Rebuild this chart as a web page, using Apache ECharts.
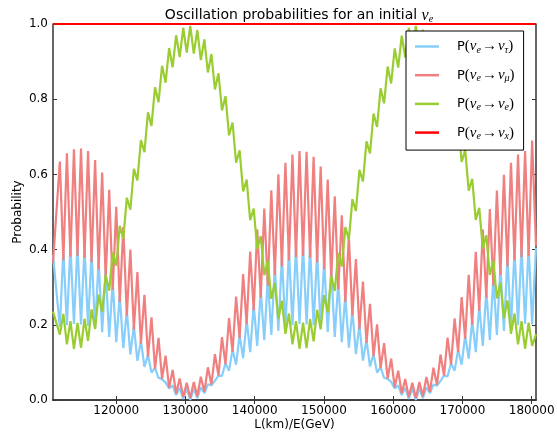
<!DOCTYPE html>
<html lang="en">
<head>
    <meta charset="UTF-8">
    <title>Oscillation probabilities</title>
    <style>
        html,body{
            margin: 0;
            padding: 0;
            background: #fff;
        }
        #chartmain{
            width: 557px;
            height: 439px;
        }
    </style>
</head>
<body>
<div id="chartmain"></div>
<script src="https://cdn.jsdelivr.net/npm/echarts@6/dist/echarts.min.js"></script>
<script type="text/javascript">
    // L/E positions (km/GeV) of the zig-zag turning points
    var lOverE = [110866,111856,112365,112874,113383,113892,114401,114910,115419,
        115928,116437,116946,117455,117964,118473,118982,119491,120000,120509,
        121018,121527,122036,122545,123054,123563,124072,124581,125090,125599,
        126108,126617,127126,127635,128144,128653,129162,129671,130180,130689,
        131198,131707,132216,132725,133234,133743,134252,134761,135270,135779,
        136288,136797,137306,137815,138324,138833,139342,139851,140360,140869,
        141378,141887,142396,142905,143414,143923,144432,144941,145450,145959,
        146468,146977,147486,147995,148504,149013,149522,150031,150540,151049,
        151558,152067,152576,153085,153594,154103,154612,155121,155630,156139,
        156648,157157,157666,158175,158684,159193,159702,160211,160720,161229,
        161738,162247,162756,163265,163774,164283,164792,165301,165810,166319,
        166828,167337,167846,168355,168864,169373,169882,170391,170900,171409,
        171918,172427,172936,173445,173954,174463,174972,175481,175990,176499,
        177008,177517,178026,178535,179044,179553,180062,180620];

    // P(nu_e -> nu_tau)
    var pTau = [.385,.194,.399,.199,.410,.202,.412,.201,.407,
        .197,.394,.190,.373,.180,.346,.168,.314,.154,.278,
        .138,.239,.121,.198,.104,.158,.088,.120,.073,.085,
        .059,.055,.047,.031,.039,.013,.033,.003,.030,.000,
        .031,.005,.034,.018,.042,.039,.051,.065,.064,.098,
        .078,.134,.094,.173,.111,.213,.127,.253,.144,.292,
        .159,.326,.173,.357,.184,.381,.193,.399,.199,.409,
        .202,.412,.201,.407,.198,.394,.191,.373,.181,.347,
        .168,.315,.154,.279,.139,.240,.122,.200,.105,.160,
        .089,.122,.073,.087,.059,.056,.048,.031,.039,.013,
        .033,.003,.030,.000,.031,.005,.034,.018,.041,.038,
        .051,.065,.063,.097,.078,.133,.094,.172,.110,.212,
        .127,.252,.144,.291,.159,.326,.173,.356,.184,.381,
        .193,.399,.199,.409,.202,.412,.201,.405];

    // P(nu_e -> nu_mu)
    var pMu = [.365,.634,.371,.656,.381,.667,.383,.669,.378,
        .662,.366,.638,.347,.605,.322,.559,.293,.514,.260,
        .460,.224,.400,.187,.340,.150,.280,.115,.220,.083,
        .165,.056,.118,.033,.080,.017,.057,.008,.046,.005,
        .048,.010,.062,.022,.087,.041,.122,.065,.167,.095,
        .218,.128,.275,.164,.335,.201,.395,.238,.454,.272,
        .509,.304,.558,.332,.600,.355,.631,.371,.653,.380,
        .662,.383,.660,.378,.647,.366,.621,.347,.586,.323,
        .542,.294,.491,.261,.435,.225,.375,.188,.315,.152,
        .256,.117,.201,.085,.151,.057,.110,.034,.078,.018,
        .056,.008,.046,.005,.048,.010,.061,.022,.086,.040,
        .121,.065,.166,.094,.217,.127,.274,.163,.333,.200,
        .394,.237,.453,.272,.508,.304,.557,.332,.599,.355,
        .631,.371,.653,.380,.662,.383,.690,.410];

    // P(nu_e -> nu_e)
    var pEe = [.235,.174,.229,.148,.210,.136,.205,.139,.216,
        .157,.241,.189,.280,.234,.332,.291,.393,.357,.463,
        .429,.538,.506,.615,.584,.691,.659,.765,.729,.832,
        .792,.889,.844,.936,.885,.970,.912,.990,.924,.995,
        .921,.984,.904,.959,.871,.920,.826,.869,.770,.808,
        .704,.738,.631,.664,.555,.586,.478,.509,.402,.436,
        .332,.370,.269,.311,.216,.264,.176,.230,.148,.210,
        .136,.206,.138,.215,.156,.240,.188,.279,.233,.330,
        .290,.391,.355,.460,.426,.534,.503,.612,.581,.688,
        .656,.762,.726,.829,.789,.887,.842,.935,.884,.969,
        .911,.990,.924,.995,.922,.985,.904,.960,.872,.922,
        .828,.871,.771,.809,.705,.740,.633,.665,.557,.588,
        .479,.511,.403,.438,.333,.371,.270,.312,.217,.265,
        .176,.230,.148,.210,.136,.206,.144,.175];

    // sum of all three, flat at one
    var sumX = [110866, 180620];
    var pSum = [1, 1];

    var xTicks = [120000, 130000, 140000, 150000, 160000, 170000, 180000];
    var xMin = 110866, xMax = 180620;

    function pairs(xs, ys) {
        var out = [];
        for (var i = 0; i < ys.length; i++) out.push([xs[i], ys[i]]);
        return out;
    }

    var mathFont = '"Liberation Serif", "DejaVu Serif", serif';
    var rich = {
        p: {fontFamily: 'DejaVu Sans', fontSize: 13, color: '#000', padding: [0, 0, 0, 13]},
        m: {fontFamily: mathFont, fontSize: 15, color: '#000'},
        a: {fontFamily: mathFont, fontSize: 15, color: '#000', padding: [0, 1, 0, 1]},
        i: {fontFamily: mathFont, fontStyle: 'italic', fontSize: 15, color: '#000'},
        s: {fontFamily: mathFont, fontStyle: 'italic', fontSize: 10, color: '#000', padding: [7, 0, 0, 0]}
    };
    var legendText = {
        tau: '{p|P}{m|(}{i|ν}{s|e}{a|→}{i|ν}{s|τ}{m|)}',
        mu: '{p|P}{m|(}{i|ν}{s|e}{a|→}{i|ν}{s|μ}{m|)}',
        ee: '{p|P}{m|(}{i|ν}{s|e}{a|→}{i|ν}{s|e}{m|)}',
        x: '{p|P}{m|(}{i|ν}{s|e}{a|→}{i|ν}{s|x}{m|)}'
    };

    var spine = {show: true, lineStyle: {color: '#333', width: 1.5}};
    var tick = {show: true, inside: true, length: 4, lineStyle: {color: '#333', width: 1}};
    var lineIcon = 'path://M0,0 L24,0 L24,2.5 L0,2.5 Z';

    var option = {
        animation: false,
        backgroundColor: '#fff',
        title: {
            text: '{t|Oscillation probabilities for an initial }{i|ν}{s|e}',
            left: 294,
            textAlign: 'center',
            top: 2,
            textStyle: {
                fontWeight: 'normal',
                rich: {
                    t: {fontFamily: 'DejaVu Sans', fontSize: 14, fontWeight: 'normal', color: '#000'},
                    i: {fontFamily: mathFont, fontStyle: 'italic', fontWeight: 'normal', fontSize: 16, color: '#000'},
                    s: {fontFamily: mathFont, fontStyle: 'italic', fontWeight: 'normal', fontSize: 10, color: '#000', padding: [7, 0, 0, 0]}
                }
            }
        },
        grid: {left: 53, right: 21, top: 24, bottom: 39, containLabel: false, outerBoundsMode: 'none'},
        legend: {
            orient: 'vertical',
            left: 406,
            top: 31,
            padding: [8, 9, 9, 9],
            itemWidth: 24,
            itemHeight: 3,
            itemGap: 12.7,
            icon: lineIcon,
            borderColor: '#000',
            borderWidth: 1,
            borderRadius: 0,
            backgroundColor: '#fff',
            data: ['tau', 'mu', 'ee', 'x'],
            formatter: function (name) { return legendText[name]; },
            textStyle: {rich: rich}
        },
        xAxis: [{
            type: 'value',
            min: xMin,
            max: xMax,
            position: 'bottom',
            axisLine: spine,
            axisTick: Object.assign({customValues: xTicks}, tick),
            axisLabel: {
                customValues: xTicks,
                formatter: function (v) { return String(v); },
                fontFamily: 'DejaVu Sans',
                fontSize: 12,
                color: '#000',
                margin: 5
            },
            splitLine: {show: false},
            name: 'L(km)/E(GeV)',
            nameLocation: 'middle',
            nameGap: 19,
            nameMoveOverlap: false,
            nameTextStyle: {fontFamily: 'DejaVu Sans', fontSize: 12, color: '#000'}
        }, {
            type: 'value',
            min: xMin,
            max: xMax,
            position: 'top',
            axisLine: spine,
            axisTick: Object.assign({customValues: xTicks}, tick),
            axisLabel: {show: false},
            splitLine: {show: false}
        }],
        yAxis: [{
            type: 'value',
            min: 0,
            max: 1,
            interval: 0.2,
            position: 'left',
            axisLine: spine,
            axisTick: tick,
            axisLabel: {
                formatter: function (v) { return v.toFixed(1); },
                fontFamily: 'DejaVu Sans',
                fontSize: 12,
                color: '#000',
                margin: 5
            },
            splitLine: {show: false},
            name: 'Probability',
            nameLocation: 'middle',
            nameGap: 29,
            nameRotate: 90,
            nameMoveOverlap: false,
            nameTextStyle: {fontFamily: 'DejaVu Sans', fontSize: 12, color: '#000'}
        }, {
            type: 'value',
            min: 0,
            max: 1,
            interval: 0.2,
            position: 'right',
            axisLine: spine,
            axisTick: tick,
            axisLabel: {show: false},
            splitLine: {show: false}
        }],
        series: [{
            name: 'tau',
            type: 'line',
            data: pairs(lOverE, pTau),
            symbol: 'none',
            color: '#87CEFA',
            lineStyle: {color: '#87CEFA', width: 2.2}
        }, {
            name: 'mu',
            type: 'line',
            data: pairs(lOverE, pMu),
            symbol: 'none',
            color: '#F08080',
            lineStyle: {color: '#F08080', width: 2.2}
        }, {
            name: 'ee',
            type: 'line',
            data: pairs(lOverE, pEe),
            symbol: 'none',
            color: '#9ACD32',
            lineStyle: {color: '#9ACD32', width: 2.2}
        }, {
            name: 'x',
            type: 'line',
            data: pairs(sumX, pSum),
            symbol: 'none',
            clip: false,
            z: 5,
            color: '#FF0000',
            lineStyle: {color: '#FF0000', width: 2}
        }]
    };

    var myChart = echarts.init(document.getElementById('chartmain'));
    myChart.setOption(option);
</script>
</body>
</html>
